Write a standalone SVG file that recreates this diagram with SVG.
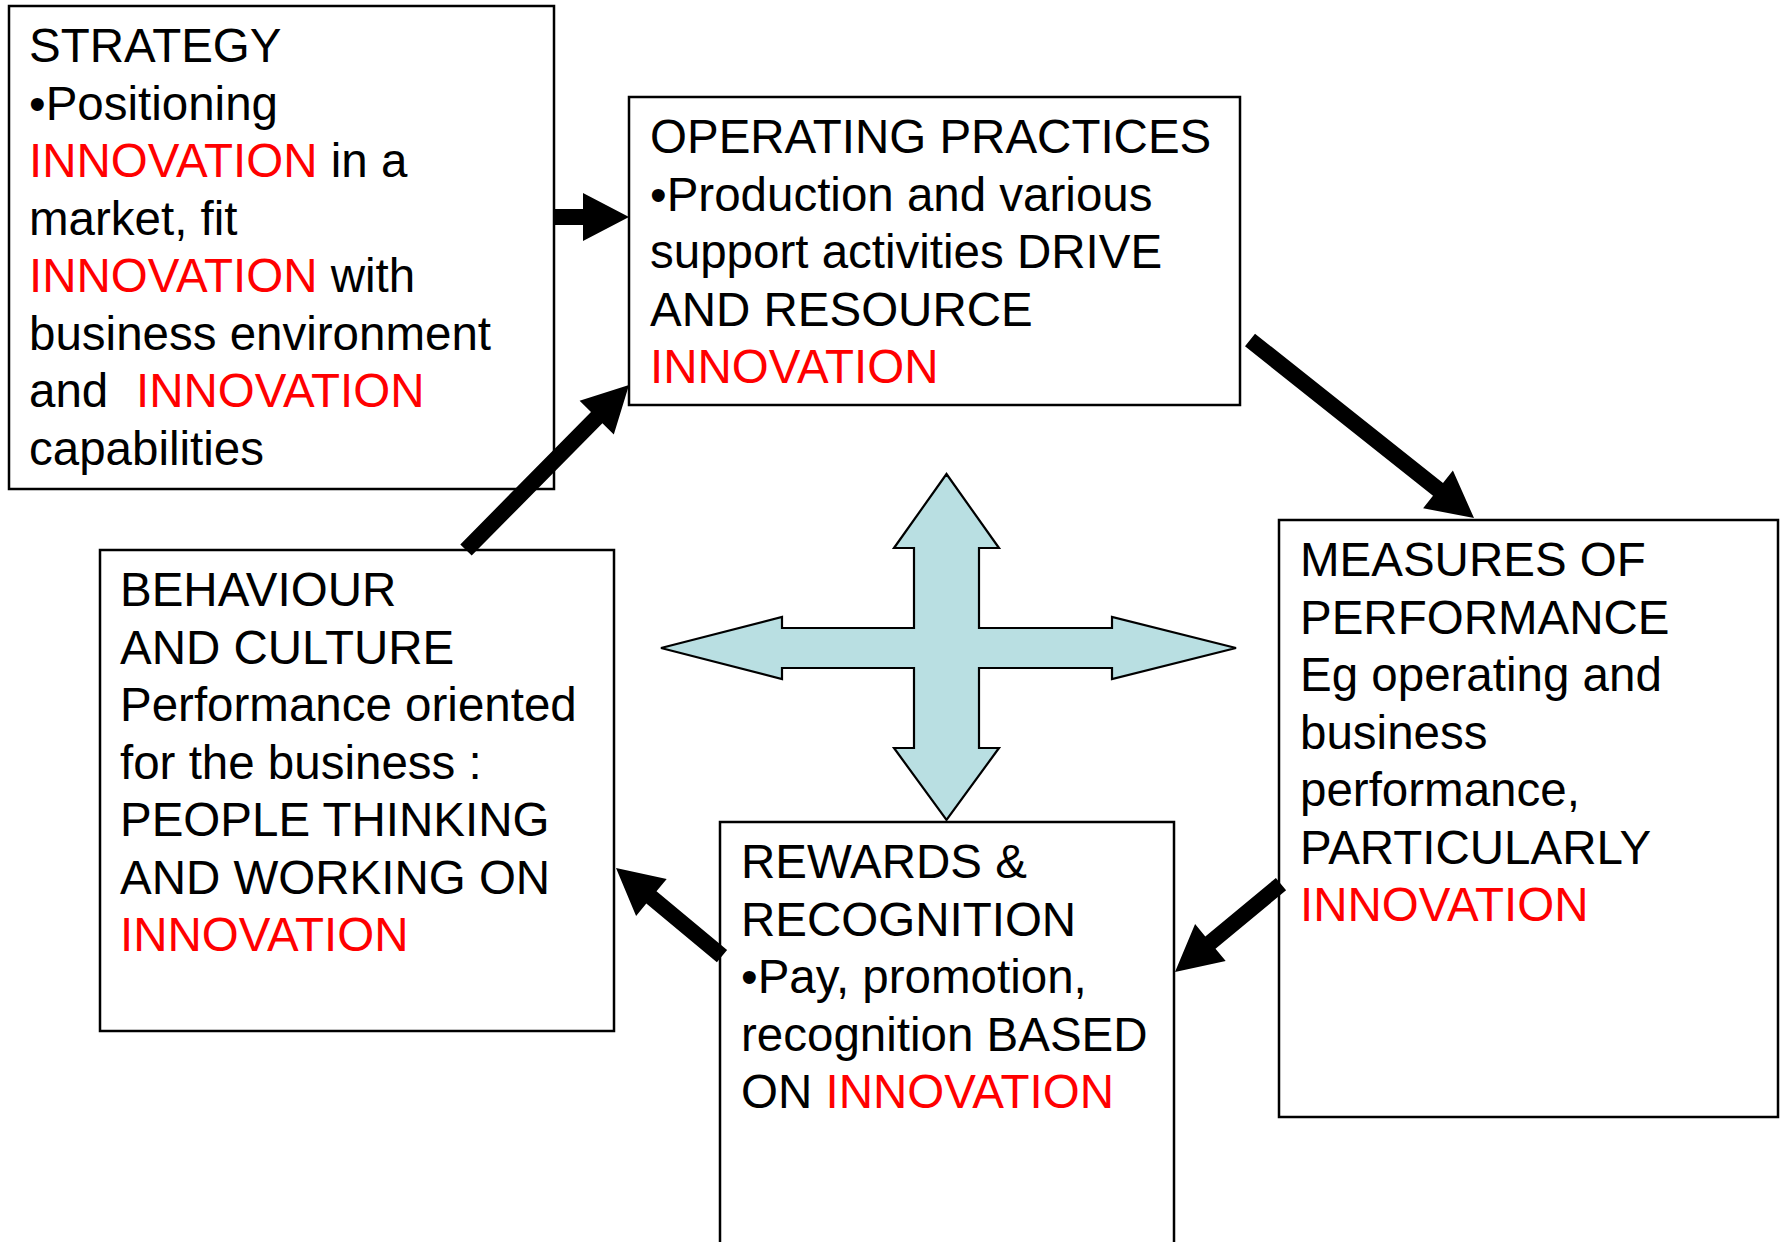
<svg xmlns="http://www.w3.org/2000/svg" width="1781" height="1242" viewBox="0 0 1781 1242">
  <style>
    .box { fill: #ffffff; stroke: #000000; stroke-width: 2.5; }
    .txt { font-family: "Liberation Sans", Arial, Helvetica, sans-serif; font-size: 47.5px; fill: #000000; }
    .hl { fill: #ff0000; }
    .conn { fill: #000000; stroke: none; }
    .cross { fill: #b9dfe2; stroke: #000000; stroke-width: 2.2; stroke-linejoin: miter; }
  </style>
  <rect x="0" y="0" width="1781" height="1242" fill="#ffffff"/>

  <!-- Strategy -->
  <g id="strategy">
    <rect class="box" x="9" y="6" width="545" height="483"/>
    <text class="txt">
      <tspan x="29" y="62">STRATEGY</tspan>
      <tspan x="29" y="119.5">•Positioning</tspan>
      <tspan x="29" y="177"><tspan class="hl">INNOVATION</tspan> in a</tspan>
      <tspan x="29" y="234.5">market, fit</tspan>
      <tspan x="29" y="292"><tspan class="hl">INNOVATION</tspan> with</tspan>
      <tspan x="29" y="349.5">business environment</tspan>
      <tspan x="29" y="407">and</tspan><tspan x="136" y="407" class="hl">INNOVATION</tspan>
      <tspan x="29" y="464.5">capabilities</tspan>
    </text>
  </g>

  <!-- Operating practices -->
  <g id="operating">
    <rect class="box" x="629" y="97" width="611" height="308"/>
    <text class="txt">
      <tspan x="650" y="153">OPERATING PRACTICES</tspan>
      <tspan x="650" y="210.5">•Production and various</tspan>
      <tspan x="650" y="268">support activities DRIVE</tspan>
      <tspan x="650" y="325.5">AND RESOURCE</tspan>
      <tspan x="650" y="383" class="hl">INNOVATION</tspan>
    </text>
  </g>

  <!-- Measures of performance -->
  <g id="measures">
    <rect class="box" x="1279" y="520" width="499" height="597"/>
    <text class="txt">
      <tspan x="1300" y="576">MEASURES OF</tspan>
      <tspan x="1300" y="633.5">PERFORMANCE</tspan>
      <tspan x="1300" y="691">Eg operating and</tspan>
      <tspan x="1300" y="748.5">business</tspan>
      <tspan x="1300" y="806">performance,</tspan>
      <tspan x="1300" y="863.5">PARTICULARLY</tspan>
      <tspan x="1300" y="921" class="hl">INNOVATION</tspan>
    </text>
  </g>

  <!-- Behaviour and culture -->
  <g id="behaviour">
    <rect class="box" x="100" y="550" width="514" height="481"/>
    <text class="txt">
      <tspan x="120" y="606">BEHAVIOUR</tspan>
      <tspan x="120" y="663.5">AND CULTURE</tspan>
      <tspan x="120" y="721">Performance oriented</tspan>
      <tspan x="120" y="778.5">for the business :</tspan>
      <tspan x="120" y="836">PEOPLE THINKING</tspan>
      <tspan x="120" y="893.5">AND WORKING ON</tspan>
      <tspan x="120" y="951" class="hl">INNOVATION</tspan>
    </text>
  </g>

  <!-- Rewards and recognition -->
  <g id="rewards">
    <rect class="box" x="720" y="822" width="454" height="460"/>
    <text class="txt">
      <tspan x="741" y="878">REWARDS &amp;</tspan>
      <tspan x="741" y="935.5">RECOGNITION</tspan>
      <tspan x="741" y="993">•Pay, promotion,</tspan>
      <tspan x="741" y="1050.5">recognition BASED</tspan>
      <tspan x="741" y="1108">ON <tspan class="hl">INNOVATION</tspan></tspan>
    </text>
  </g>

  <!-- Centre four-way arrow -->
  <g id="hub">
    <polygon class="cross" points="946.5,474 999,548 979,548 979,628 1112,628 1112,617 1236,648 1112,679 1112,668 979,668 979,748 999,748 946.5,820 894,748 914,748 914,668 782,668 782,679 661,648 782,617 782,628 914,628 914,548 894,548"/>
  </g>

  <!-- Cycle connectors -->
  <g id="connectors">
    <polygon class="conn" points="553,209 583,209 583,193 629,217 583,241 583,225 553,225"/>
    <polygon class="conn" points="460.3,544.4 591.0,412.1 579.6,400.8 629,385 613.8,434.6 602.4,423.3 471.7,555.6"/>
    <polygon class="conn" points="1255.0,333.7 1443.0,483.1 1452.9,470.6 1474,518 1423.1,508.2 1433.0,495.7 1245.0,346.3"/>
    <polygon class="conn" points="1286.1,890.2 1215.5,948.8 1225.7,961.1 1175,972 1195.1,924.1 1205.3,936.4 1275.9,877.9"/>
    <polygon class="conn" points="716.9,962.2 646.3,903.6 636.1,915.9 616,868 666.7,878.9 656.5,891.2 727.1,949.9"/>
  </g>
</svg>
